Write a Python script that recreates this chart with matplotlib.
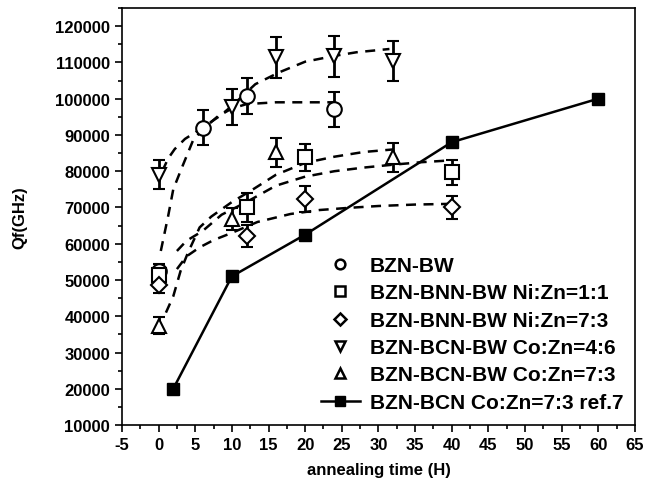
import matplotlib
matplotlib.use('Agg')
import matplotlib.pyplot as plt
from matplotlib.lines import Line2D
from matplotlib.ticker import MultipleLocator

plt.rcParams['font.family'] = ['Liberation Sans', 'DejaVu Sans']
plt.rcParams['font.weight'] = 'bold'
plt.rcParams['axes.unicode_minus'] = False

# measured points
bw_t = [0, 6, 12, 24]
bw_v = [52500, 92000, 100800, 97100]
bw_e = [2000, 4800, 5000, 4800]

nni11_t = [0, 12, 20, 40]
nni11_v = [51500, 70000, 83800, 79700]
nni11_e = [2000, 4000, 3700, 3500]

nni73_t = [0, 12, 20, 40]
nni73_v = [48500, 62200, 72300, 70000]
nni73_e = [2000, 3000, 3500, 3200]

bcn46_t = [0, 10, 16, 24, 32]
bcn46_v = [79000, 97700, 111400, 111700, 110400]
bcn46_e = [4000, 5000, 5600, 5600, 5500]

bcn73_t = [0, 10, 16, 32]
bcn73_v = [37400, 66800, 85200, 83800]
bcn73_e = [2300, 3000, 4000, 4000]

ref_t = [2, 10, 20, 40, 60]
ref_v = [20000, 51000, 62500, 88000, 100000]

# dashed fit curves
bw_fit_t = [0.3, 1.3, 2.0, 3.1, 4.7, 6, 8, 10, 12, 16, 20, 24]
bw_fit_v = [58000, 67600, 75000, 80600, 88500, 91500, 95000, 97300, 98500, 99000, 99000, 99000]

bcn46_fit_t = [0.5, 1.3, 2.2, 3.6, 6, 8.4, 10, 13.2, 16.5, 20, 24, 27, 31.5]
bcn46_fit_v = [80000, 83500, 86100, 88900, 92000, 95300, 98000, 104000, 107300, 110200, 111800, 112800, 113700]

nni11_fit_t = [2.5, 3.8, 6, 8.6, 12, 16, 20, 24, 28, 32, 36, 40]
nni11_fit_v = [58000, 60800, 63500, 68000, 71500, 76000, 78500, 80000, 81000, 81800, 82500, 83000]

nni73_fit_t = [2.5, 3.8, 5.6, 7.5, 10, 13.5, 18, 22, 26, 30, 35, 40]
nni73_fit_v = [53000, 56500, 59000, 61000, 63000, 66000, 68200, 69300, 69900, 70400, 70800, 71000]

bcn73_fit_t = [1.0, 2.0, 3.0, 4.0, 5.6, 7.2, 10, 12.5, 16, 20, 24, 28, 32]
bcn73_fit_v = [41000, 45500, 52500, 57500, 64500, 67500, 71500, 74500, 79000, 82300, 84000, 85300, 86000]

labels = ['BZN-BW', 'BZN-BNN-BW Ni:Zn=1:1', 'BZN-BNN-BW Ni:Zn=7:3',
          'BZN-BCN-BW Co:Zn=4:6', 'BZN-BCN-BW Co:Zn=7:3', 'BZN-BCN Co:Zn=7:3 ref.7']

fig = plt.figure(figsize=(6.6, 4.85), dpi=100)
ax = fig.add_axes([0.1848, 0.1216, 0.7772, 0.8598])

dash = (0, (4, 3))
for ft, fv in [(bw_fit_t, bw_fit_v), (bcn46_fit_t, bcn46_fit_v), (nni11_fit_t, nni11_fit_v),
               (nni73_fit_t, nni73_fit_v), (bcn73_fit_t, bcn73_fit_v)]:
    ax.plot(ft, fv, color='black', lw=1.8, linestyle=dash, zorder=2)

ax.plot(ref_t, ref_v, color='black', lw=1.8, marker='s', ms=8.5, mfc='black', zorder=3)

series = [(bw_t, bw_v, bw_e, 'o'), (nni11_t, nni11_v, nni11_e, 's'), (nni73_t, nni73_v, nni73_e, 'D'),
          (bcn46_t, bcn46_v, bcn46_e, 'v'), (bcn73_t, bcn73_v, bcn73_e, '^')]
for t, v, e, m in series:
    ms = 8 if m == 'D' else 10.5
    ax.errorbar(t, v, yerr=e, fmt=m, ms=ms, mfc='white', mec='black', mew=1.5,
                ecolor='black', elinewidth=2, capsize=4, capthick=2, zorder=4)

ax.set_xlim(-5, 65)
ax.xaxis.set_major_locator(MultipleLocator(5))
ax.xaxis.set_minor_locator(MultipleLocator(2.5))
ax.yaxis.set_minor_locator(MultipleLocator(5000))
ax.set_yticks(list(range(10000, 130000, 10000)))
ax.set_ylim(10000, 125000)
ax.tick_params(which='major', direction='out', length=5, width=1.2, labelsize=12)
ax.tick_params(which='minor', direction='out', length=3, width=1.2)
for s in ax.spines.values():
    s.set_linewidth(1.2)

ax.set_xlabel('annealing time (H)', fontsize=12, fontweight='bold', labelpad=7)
ax.set_ylabel('Qf(GHz)', fontsize=12, fontweight='bold', labelpad=20)

handles = [Line2D([], [], ls='none', marker='o', ms=7, mfc='white', mec='black', mew=1.8),
           Line2D([], [], ls='none', marker='s', ms=7, mfc='white', mec='black', mew=1.8),
           Line2D([], [], ls='none', marker='D', ms=6, mfc='white', mec='black', mew=1.8),
           Line2D([], [], ls='none', marker='v', ms=7, mfc='white', mec='black', mew=1.8),
           Line2D([], [], ls='none', marker='^', ms=7, mfc='white', mec='black', mew=1.8),
           Line2D([], [], color='black', lw=1.8, marker='s', ms=7, mfc='black')]
ax.legend(handles, labels, loc='upper left', bbox_to_anchor=(0.367, 0.43), frameon=False,
          handlelength=1.9, handletextpad=0.45, labelspacing=0.4,
          borderpad=0, prop={'weight': 'bold', 'size': 15})

fig.savefig('out.png', dpi=100)
